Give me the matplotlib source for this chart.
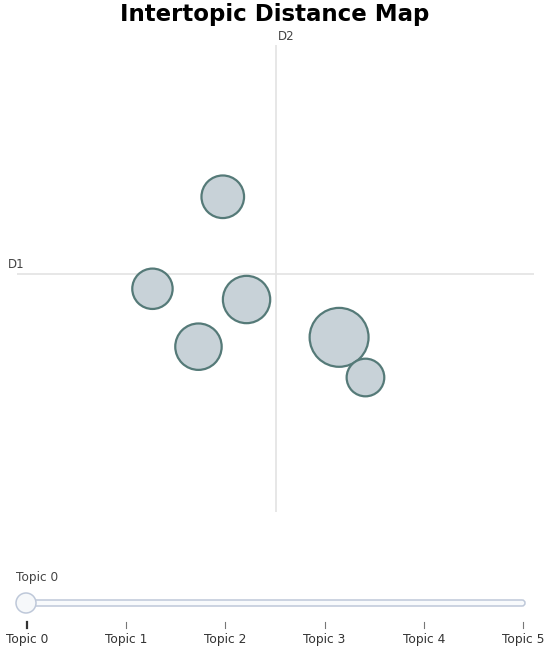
import matplotlib
matplotlib.use("Agg")
import matplotlib.pyplot as plt
import numpy as np
from matplotlib.patches import Circle, FancyBboxPatch

# topic embeddings (2D) and topic sizes
topics = ["Topic 0", "Topic 1", "Topic 2", "Topic 3", "Topic 4", "Topic 5"]
d1 = [6.23, 4.44, 3.51, 3.98, 2.62, 6.74]
d2 = [3.74, 4.55, 3.54, 6.75, 4.78, 2.88]
counts = [245, 158, 152, 128, 115, 100]
x_range = (0.0, 10.0)
y_range = (0.0, 10.0)
d1_axis, d2_axis = 5.0, 5.1

W, H = 550, 652
fig = plt.figure(figsize=(W / 100, H / 100), dpi=100)

# main map
ax = fig.add_axes([17 / W, 1 - 512 / H, 517 / W, 467 / H])
ax.set_xlim(*x_range)
ax.set_ylim(*y_range)
ax.axis("off")
ax.axvline(d1_axis, color="#e3e3e3", lw=1.2, zorder=0)
ax.axhline(d2_axis, color="#e3e3e3", lw=1.2, zorder=0)

sizes = 1800 * np.array(counts) / max(counts)
ax.scatter(d1, d2, s=sizes, facecolor="#c8d2d8", edgecolor="#557a78",
           linewidths=1.6, zorder=3)

# overlay in pixel coordinates for title, labels and slider
ov = fig.add_axes([0, 0, 1, 1])
ov.set_xlim(0, W)
ov.set_ylim(H, 0)
ov.axis("off")
ov.patch.set_alpha(0)

ov.text(275, 15, "Intertopic Distance Map", ha="center", va="center",
        fontsize=16.5, fontweight="bold", color="black")
ov.text(8, 264, "D1", ha="left", va="center", fontsize=8.5, color="#444444")
ov.text(278, 37, "D2", ha="left", va="center", fontsize=8.5, color="#444444")

# slider
ov.add_patch(FancyBboxPatch((17, 600), 508, 6, boxstyle="round,pad=0,rounding_size=3",
                            facecolor="#f8fafc", edgecolor="#bec8d9", lw=1.1))
ov.add_patch(Circle((26, 603), 10, facecolor="#f6f8fa", edgecolor="#bec8d9", lw=1.1, zorder=5))
ov.text(16, 577, topics[0], ha="left", va="center", fontsize=8.7, color="#444444")

tick_x = np.linspace(27, 523, len(topics))
for i, (tx, name) in enumerate(zip(tick_x, topics)):
    active = i == 0
    ov.plot([tx, tx], [622, 628], color="#333333" if active else "#777777",
            lw=1.6 if active else 0.8)
    ov.text(tx, 639, name, ha="center", va="center", fontsize=8.8, color="#333333")

fig.savefig("out.png", dpi=100)
